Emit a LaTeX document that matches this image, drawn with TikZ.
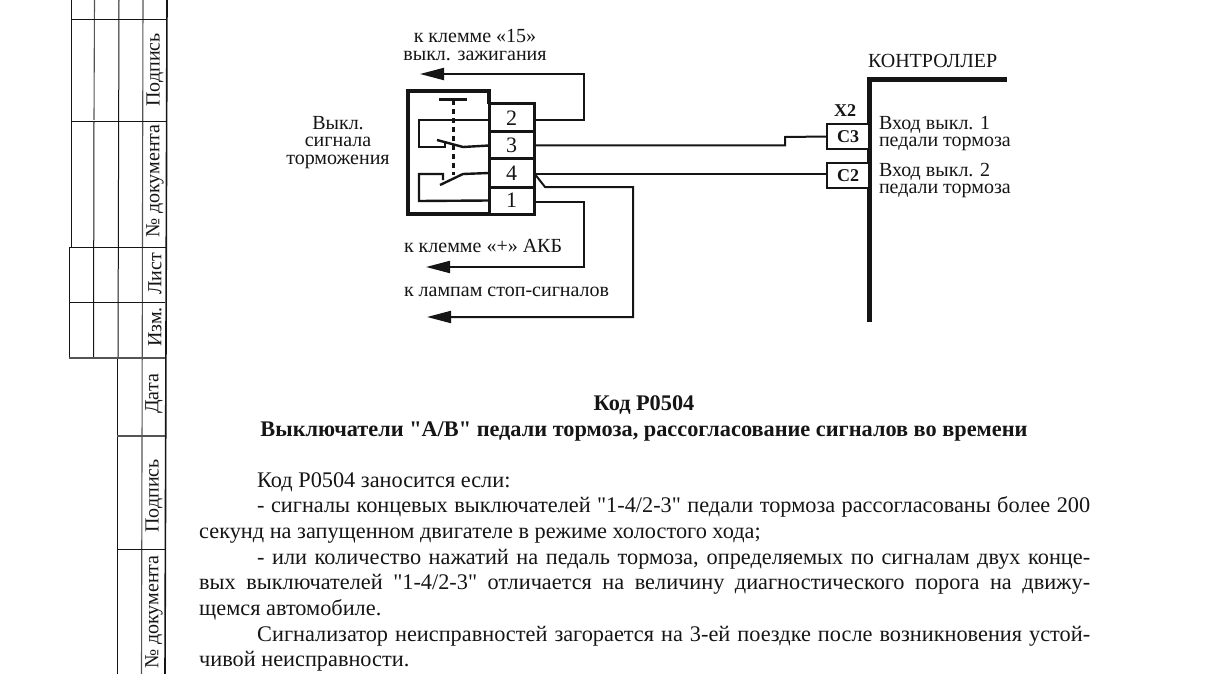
\documentclass[tikz,border=0pt]{standalone}
\usepackage{fontspec}
\setmainfont{Liberation Serif}[Ligatures=TeXOff]
\usetikzlibrary{arrows.meta}
\definecolor{ink}{HTML}{151515}
\definecolor{gridgray}{HTML}{555555}
\tikzset{
  lab/.style={inner sep=0pt,outer sep=0pt,text=ink,font=\fontsize{20}{17.7}\selectfont,align=center},
  labl/.style={lab,anchor=west,align=left},
  side/.style={inner sep=0pt,outer sep=0pt,text=ink,rotate=90,font=\fontsize{20}{20}\selectfont},
  term/.style={draw=ink,line width=3pt,inner sep=0pt,outer sep=0pt,minimum width=45pt,text=ink,font=\fontsize{22}{22}\selectfont},
  pin/.style={draw=ink,line width=2.2pt,fill=white,inner sep=0pt,outer sep=0pt,minimum width=42pt,minimum height=25pt,text=ink,font=\bfseries\fontsize{18}{18}\selectfont},
  wire/.style={draw=ink,line width=2pt},
  arrowwire/.style={wire,-{Triangle[length=24pt,width=12pt]}},
  inner/.style={draw=ink,line width=2.4pt},
  gridline/.style={draw=ink,line width=1pt},
  gridsoft/.style={draw=gridgray,line width=1.1pt},
}
\begin{document}
\begin{tikzpicture}[x=1pt,y=-1pt]
\useasboundingbox[fill=white] (0,0) rectangle (1205,674);
% side stamp grid
\draw[gridline] (71,0) -- (71,247);
\draw[gridline] (69,247) -- (69,358);
\draw[gridsoft] (94.5,0) -- (94,120);
\draw[gridline] (94,122) -- (93.5,358);
\draw[gridline] (119,0) -- (118,358);
\draw[gridline] (117,358) -- (117,674);
\draw[gridsoft] (143,0) -- (141.5,674);
\draw[draw=ink,line width=1.6pt] (167,0) -- (165,674);
\draw[gridline] (71,20) -- (167,20);
\draw[gridline] (71,122) -- (167,122);
\draw[gridline] (69,247) -- (166,247);
\draw[gridline] (69,302) -- (165,302);
\draw[gridsoft] (69,358) -- (165,358);
\draw[gridsoft] (117,436) -- (165,436);
\draw[gridline] (117,549) -- (165,549);
\node[side] (s1) at (155,70) {Подпись};
\node[side] (s2) at (155,181) {№ документа};
\node[side] (s3) at (155,274) {Лист};
\node[side] (s4) at (155,327) {Изм.};
\node[side] (s5) at (154,394) {Дата};
\node[side] (s6) at (154,496) {Подпись};
\node[side] (s7) at (154,612) {№ документа};
% switch housing
\draw[draw=ink,line width=3.4pt] (489,104) -- (489,91) -- (408,91) -- (408,214) -- (489,214);
\node[term,minimum height=28pt] (t2) at (511.5,118) {2};
\node[term,minimum height=27pt] (t3) at (511.5,145.5) {3};
\node[term,minimum height=28pt] (t4) at (511.5,173) {4};
\node[term,minimum height=27pt] (t1) at (511.5,200.5) {1};
% switch internals
\draw[draw=ink,line width=3pt] (439,100) -- (467,100);
\draw[draw=ink,line width=3pt,dash pattern=on 5pt off 4pt] (453,100) -- (453,175);
\draw[inner] (t2.west) ++(0,2) -- (419,120) -- (419,147) -- (445,147) -- (445,143);
\draw[inner] (437,140) -- (463,147) -- (t3.west);
\draw[inner] (t4.west) -- (463,174) -- (440,185);
\draw[inner] (443,180) -- (443,174) -- (419,174) -- (419,201) -- (t1.west);
% wires
\coordinate (e15) at (420,74);
\coordinate (eakb) at (426,267);
\coordinate (estop) at (427,317);
\coordinate (b1) at (545,187);
\coordinate (s3a) at (785,145.5);
\coordinate (s3b) at (785,137);
\draw[arrowwire] ([yshift=-2pt]t2.east) -- (584,120) -- (584,74) -- (e15);
\draw[arrowwire] ([yshift=-1.5pt]t1.east) -- (584,202) -- (584,267) -- (eakb);
\draw[arrowwire] (t4.east) -- (b1) -- (633,187) -- (633,317) -- (estop);
% controller
\draw[draw=ink,line width=5pt] (869,322) -- (869,80) -- (1007,80);
\node[pin] (c3) at (848,136.5) {С3};
\node[pin] (c2) at (848,175.5) {С2};
\draw[wire] (t3.east) -- (s3a) -- (s3b) -- (c3.west);
\draw[wire] ([yshift=-1pt]t4.east) -- ([yshift=1.5pt]c2.west);
% labels
\node[lab] (l15) at (475,45) {к клемме «15»\\выкл. зажигания};
\node[lab] (lsw) at (338,142.5) {Выкл.\\сигнала\\торможения};
\node[labl] (lakb) at (404,246) {к клемме «+» АКБ};
\node[labl] (lstop) at (404,292) {к лампам стоп-сигналов};
\node[labl] (lctl) at (868,61) {КОНТРОЛЛЕР};
\node[inner sep=0pt,text=ink,font=\bfseries\fontsize{18}{18}\selectfont] (x2) at (845,111) {Х2};
\node[labl] (li1) at (879,133.5) {Вход выкл. 1\\педали тормоза};
\node[labl] (li2) at (879,180.5) {Вход выкл. 2\\педали тормоза};
% text
\node[inner sep=0pt,text=ink,font=\bfseries\fontsize{22.3}{22}\selectfont] (h1) at (644,405) {Код Р0504};
\node[inner sep=0pt,text=ink,font=\bfseries\fontsize{22.3}{22}\selectfont] (h2) at (644,431.5) {Выключатели "А/В" педали тормоза, рассогласование сигналов во времени};
\node[anchor=north west,inner sep=0pt,text=ink] (body) at (199,472) {\parbox[t]{891pt}{\fontsize{22.3}{25.7}\selectfont\parindent=58pt\parfillskip=0pt plus 1fil
Код Р0504 заносится если:\par
- сигналы концевых выключателей "1-4/2-3" педали тормоза рассогласованы более 200\linebreak секунд на запущенном двигателе в режиме холостого хода;\par
- или количество нажатий на педаль тормоза, определяемых по сигналам двух конце-\linebreak вых выключателей "1-4/2-3" отличается на величину диагностического порога на движу-\linebreak щемся автомобиле.\par
Сигнализатор неисправностей загорается на 3-ей поездке после возникновения устой-\linebreak чивой неисправности.\par}};
\end{tikzpicture}
\end{document}
